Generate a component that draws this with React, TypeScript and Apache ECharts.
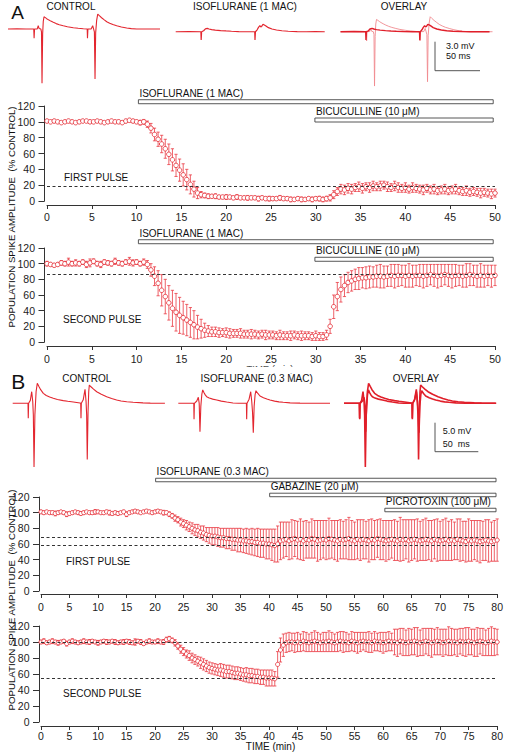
import React, { useEffect, useRef } from 'react';
import * as echarts from 'echarts';

const FONT = '"Liberation Sans", Arial, Helvetica, sans-serif';
const RED = '#e3262f';
const RED_ERR = '#ea3a42';

// ---------- Panel A (1 MAC), sampled every 0.4 min, 0..50 min ----------
const A_STEP = 0.4;
const A1_MEAN = [
  101,100,101,100,99,100,101,100,99,100,
  101,101,100,100,101,100,99,100,101,100,
  100,99,101,102,101,100,99,100,97,92,
  84,78,72,66,59,52,45,39,33,27,
  21,15,10,8,7,6,6,6,5,5,
  5,5,4,5,4,4,4,4,4,3,
  4,3,3,3,3,4,3,3,2,2,
  3,2,2,3,2,3,3,2,3,4,
  8,12,15,14,16,15,17,18,16,18,
  17,19,18,19,20,18,17,19,17,16,
  17,15,17,16,15,14,16,14,15,13,
  14,15,13,14,15,13,12,13,11,12,
  11,10,11,10,9,10,
];
const A1_ERR = [
  1,1,2,1,1,1,2,1,1,2,
  1,1,2,1,1,2,1,1,2,1,
  2,1,2,2,2,2,3,3,4,6,
  8,9,11,12,13,14,14,14,14,13,
  12,10,7,4,3,3,2,3,2,2,
  3,2,2,3,2,2,3,2,2,3,
  2,2,3,2,2,3,2,2,3,2,
  2,3,2,2,3,2,3,3,3,4,
  5,5,6,6,6,6,5,6,6,5,
  6,6,5,6,5,6,5,6,6,5,
  6,5,6,5,5,6,5,5,6,5,
  5,6,5,5,6,5,5,6,5,5,
  5,6,5,5,6,5,
];
const A2_MEAN = [
  100,99,98,99,101,100,102,100,101,100,
  102,99,101,103,100,99,102,101,100,103,
  101,100,102,103,101,102,100,102,99,92,
  84,75,66,58,50,43,38,34,31,28,
  25,22,19,17,15,14,13,13,12,12,
  12,11,11,11,11,10,10,10,10,9,
  10,9,9,9,8,9,8,8,8,9,
  8,8,8,8,7,8,7,7,9,20,
  45,58,67,72,76,78,80,81,82,82,
  83,83,84,84,83,84,85,84,85,85,
  84,85,84,85,85,84,85,86,85,84,
  85,86,85,84,85,85,84,85,86,85,
  84,85,84,85,84,85,
];
const A2_ERR = [
  3,2,2,2,3,3,5,3,4,3,
  3,4,5,3,3,4,3,3,3,4,
  3,3,3,5,4,3,3,4,5,8,
  12,16,20,22,22,23,24,23,21,20,
  19,18,15,12,9,7,6,6,6,5,
  6,6,5,5,6,5,5,6,5,5,
  5,6,5,5,5,6,5,5,6,5,
  5,6,5,5,5,6,5,5,6,9,
  15,18,16,14,13,13,13,14,13,14,
  14,13,14,15,14,13,14,15,14,13,
  14,15,14,13,14,15,14,13,14,15,
  14,13,14,15,14,13,14,15,14,13,
  14,15,14,13,14,13,
];
const A1_DASH = [19];
const A2_DASH = [86];

// ---------- Panel B (0.3 MAC), sampled every 0.5 min, 0..80 min ----------
const B_STEP = 0.5;
const B1_MEAN = [
  101,100,101,100,100,99,100,101,100,98,
  99,100,101,100,99,100,101,100,100,101,
  101,100,100,101,100,99,100,99,100,101,
  98,100,101,102,101,100,101,102,101,100,
  101,102,101,100,100,98,96,93,91,88,
  86,84,82,80,78,77,75,74,72,71,
  70,70,69,68,68,67,67,66,66,65,
  65,64,64,63,63,62,62,61,61,60,
  60,59,58,60,64,65,66,64,66,67,
  65,66,64,66,65,67,66,64,65,66,
  65,67,66,65,64,66,65,66,67,65,
  64,66,65,66,65,64,66,65,67,66,
  65,64,65,66,65,64,66,65,66,64,
  65,66,65,64,65,66,65,64,66,65,
  64,65,66,64,65,64,66,65,64,63,
  65,64,65,64,63,64,65,64,63,64,
  65,
];
const B1_ERR = [
  2,2,1,2,2,3,2,1,2,3,
  2,2,1,2,2,2,1,2,2,3,
  2,1,2,2,3,2,2,2,1,2,
  3,2,2,2,2,1,2,2,2,2,
  2,2,2,3,2,3,3,4,4,5,
  5,6,6,7,7,8,8,9,9,10,
  11,11,12,12,12,13,13,14,14,15,
  15,15,16,16,17,17,18,18,18,19,
  19,20,21,23,24,23,22,24,25,23,
  24,26,25,24,23,25,24,26,25,24,
  25,26,24,25,26,25,24,25,27,25,
  24,25,26,25,24,27,26,25,24,26,
  25,26,25,24,26,25,28,26,25,27,
  26,25,27,25,26,27,25,26,25,27,
  25,26,27,25,26,24,26,27,25,26,
  27,26,25,26,27,25,26,27,25,26,
  27,
];
const B2_MEAN = [
  100,101,99,100,101,100,99,100,101,98,
  100,101,100,99,100,101,100,100,101,100,
  99,100,101,100,100,101,100,99,100,100,
  101,100,99,100,101,100,98,100,101,100,
  100,101,100,100,103,104,102,99,95,91,
  88,85,83,80,78,76,74,72,70,68,
  67,66,65,65,64,63,63,62,61,61,
  60,59,59,58,58,57,57,56,56,55,
  55,55,54,72,90,96,99,100,100,99,
  100,99,101,100,99,100,101,100,99,100,
  100,101,100,99,100,101,100,100,99,101,
  100,99,100,101,100,100,99,101,100,100,
  99,100,101,100,100,99,101,100,99,100,
  100,101,100,99,100,101,100,99,100,101,
  100,99,100,101,100,100,99,101,100,100,
  101,100,99,100,101,100,99,100,101,100,
  100,
];
const B2_ERR = [
  2,3,2,2,3,2,3,2,2,3,
  2,3,2,2,2,3,2,3,2,2,
  3,2,2,3,2,2,3,2,2,3,
  2,3,2,4,2,3,2,2,3,2,
  2,3,2,3,3,3,3,4,4,5,
  5,5,6,6,6,6,7,7,7,7,
  7,7,7,8,8,8,8,8,8,8,
  8,8,9,9,9,9,9,9,9,10,
  10,10,9,16,15,14,12,12,11,12,
  12,11,12,12,11,12,13,12,11,12,
  12,13,12,11,12,12,13,12,11,12,
  12,13,12,11,12,13,12,12,11,12,
  13,12,12,11,16,17,16,17,16,17,
  16,17,18,16,17,16,17,18,16,17,
  16,17,16,18,17,16,17,16,17,18,
  17,16,17,18,16,17,16,17,18,17,
  16,
];
const B1_DASH = [68, 59];
const B2_DASH = [100, 55];

// ---------- Drug applications (min) ----------
const DRUGS_A1 = [
  { name: 'ISOFLURANE (1 MAC)', start: 10.2, end: 49.8 },
  { name: 'BICUCULLINE (10 μM)', start: 29.9, end: 49.8 },
];
const DRUGS_A2 = [
  { name: 'ISOFLURANE (1 MAC)', start: 10.2, end: 49.8 },
  { name: 'BICUCULLINE (10 μM)', start: 29.9, end: 49.8 },
];
const DRUGS_B1 = [
  { name: 'ISOFLURANE (0.3 MAC)', start: 20.1, end: 79.8 },
  { name: 'GABAZINE (20 μM)', start: 40.1, end: 79.8 },
  { name: 'PICROTOXIN (100 μM)', start: 60.3, end: 79.8 },
];

// ---------- Example field potential traces: [ms, mV] ----------
const TRACE_A_CONTROL = [
  [0,0],[10,0.02],[20,0],[28.6,0],[29.0,-0.96],[29.5,0],[32.5,0.02],[33.6,0.34],[34.6,0.05],[36.5,0],
  [37.2,-0.3],[37.8,-5.62],[38.5,-0.5],[39.2,0.8],[40.0,1.27],[41.5,1.18],[43,1.07],[45,0.95],[47.5,0.82],
  [50.3,0.69],[53.5,0.56],[57,0.45],[61.4,0.34],[66,0.24],[72.6,0.14],[78,0.08],[83.7,0.03],[88.0,0],
  [88.3,-0.96],[88.8,0],[92.5,0.02],[94.1,0.34],[95.0,0.05],[96.0,-0.3],[96.7,-5.17],[97.4,-0.4],[98.5,0.9],
  [99.7,1.55],[101.5,1.38],[104,1.17],[107,0.95],[109.7,0.76],[113,0.6],[116.5,0.46],[120.8,0.34],[126,0.21],
  [131.9,0.1],[137,0.04],[143,0],[150,0.01],[160,0],[168.9,0],
];
const TRACE_A_ISO = [
  [0,0],[15,0.02],[28.0,0],[28.3,-0.86],[28.8,0],[31,0.1],[33,0.3],[35,0.35],[37,0.28],[40,0.22],[44,0.17],
  [50,0.12],[56,0.08],[62,0.05],[70,0.02],[80,0],[87.8,0],[88.1,-0.86],[88.6,0],[90.5,0.2],[92,0.45],
  [93.5,0.62],[94.5,0.5],[95.5,0.55],[97,0.77],[98.5,0.7],[100.3,0.6],[103,0.42],[107,0.28],[112,0.18],
  [118,0.1],[125,0.05],[135,0.02],[145,0],[155,0.01],[165.6,0],
];
const TRACE_B_CONTROL = [
  [0,0],[10,0],[17.8,0],[18.1,-2.59],[18.5,0],[20.5,0.5],[22.1,2.0],[23.3,0.3],[24.0,-2],[24.8,-11],
  [25.8,-2],[27.2,2.0],[28.6,3.45],[30.5,2.9],[32.5,2.35],[35.6,1.72],[39,1.35],[43,1.08],[47.2,0.86],
  [52,0.65],[58.8,0.46],[64,0.34],[70.5,0.23],[78.3,0.05],[79.1,0],[79.4,-2.59],[79.8,0],[82,0.6],
  [84.1,2.4],[85.3,0.3],[86.0,-2],[86.7,-9.7],[87.6,-1.5],[88.4,2.0],[89.1,3.15],[91,2.85],[94,2.45],
  [97.7,2.0],[103,1.55],[109.3,1.14],[115,0.82],[120.9,0.57],[126,0.4],[132.6,0.28],[140,0.17],
  [151.5,0.07],[160,0.03],[170,0],[177,0],
];
const TRACE_B_ISO = [
  [0,0],[10,0],[18.0,0],[18.3,-2.76],[18.7,0],[21.5,0.4],[23.3,1.03],[24.3,0],[25.2,-4.9],[26.2,-0.5],
  [27.4,1.6],[28.4,2.3],[29.8,1.85],[31.3,1.45],[33,1.14],[36,0.9],[40,0.72],[44.7,0.57],[50,0.38],
  [56.3,0.22],[63.6,0.05],[70,0],[79.2,0],[79.5,-2.76],[79.9,0],[82.3,0.7],[84.2,2.0],[85.4,0.3],
  [86.3,-1.5],[87.2,-5.07],[88.2,-0.5],[89.3,1.5],[90.3,2.17],[92.5,1.7],[95,1.26],[99,0.95],[103,0.74],
  [106.6,0.57],[112,0.38],[117,0.25],[122,0.17],[130,0.08],[141.5,0.03],[155,0],[176.4,0],
];

// ---------- Layout ----------
const PLOTS = [
  { left: 47, top: 106, width: 448, height: 95, xMax: 50, yOff: 2.5, xOff: 4, xMargin: 6, mean: A1_MEAN, err: A1_ERR, step: A_STEP, dash: A1_DASH, drugs: DRUGS_A1, levels: [125.4, 102.3], barH: 4, sym: 4.6 },
  { left: 47, top: 248, width: 448, height: 94, xMax: 50, yOff: 2.5, xOff: 4, xMargin: 7, mean: A2_MEAN, err: A2_ERR, step: A_STEP, dash: A2_DASH, drugs: DRUGS_A2, levels: [128, 105.6], barH: 4, sym: 4.6 },
  { left: 41, top: 497, width: 457, height: 94, xMax: 80, yOff: 2, xOff: 3, xMargin: 7, mean: B1_MEAN, err: B1_ERR, step: B_STEP, dash: B1_DASH, drugs: DRUGS_B1, levels: [141.7, 122.6, 103.4], barH: 3.5, sym: 4.2 },
  { left: 41, top: 626, width: 457, height: 96, xMax: 80, yOff: 2, xOff: 4, xMargin: 4.5, mean: B2_MEAN, err: B2_ERR, step: B_STEP, dash: B2_DASH, drugs: [], levels: [], barH: 3.5, sym: 4.2 },
];

const A_PX_MS = 0.9, B_PX_MS = 0.86;
const TRACES = [
  { left: 8, top: 9.7, width: 152, height: 87, pxms: A_PX_MS, yMin: -7, yMax: 2, lines: [{ d: TRACE_A_CONTROL, c: RED, w: 1.1 }] },
  { left: 175.7, top: 12.4, width: 149.3, height: 87, pxms: A_PX_MS, yMin: -7, yMax: 2, lines: [{ d: TRACE_A_ISO, c: RED, w: 1.2 }] },
  { left: 340.5, top: 12.4, width: 152.5, height: 87, pxms: A_PX_MS, yMin: -7, yMax: 2, lines: [{ d: TRACE_A_CONTROL, c: '#f08a8f', w: 0.9 }, { d: TRACE_A_ISO, c: '#e01f2a', w: 1.4 }] },
  { left: 12.7, top: 380.1, width: 152.3, height: 92.8, pxms: B_PX_MS, yMin: -12, yMax: 4, lines: [{ d: TRACE_B_CONTROL, c: RED, w: 1.1 }] },
  { left: 178.3, top: 380.1, width: 151.7, height: 92.8, pxms: B_PX_MS, yMin: -12, yMax: 4, lines: [{ d: TRACE_B_ISO, c: RED, w: 1.1 }] },
  { left: 344, top: 380.1, width: 152, height: 92.8, pxms: B_PX_MS, yMin: -12, yMax: 4, lines: [{ d: TRACE_B_CONTROL, c: '#e01f2a', w: 1.6 }, { d: TRACE_B_ISO, c: '#e01f2a', w: 1.6 }] },
];

function buildOption() {
  const grid: any[] = [];
  const xAxis: any[] = [];
  const yAxis: any[] = [];
  const series: any[] = [];
  const axisColor = '#333';

  PLOTS.forEach((p, gi) => {
    grid.push({ left: p.left, top: p.top, width: p.width, height: p.height });
    xAxis.push({
      type: 'value', gridIndex: gi, min: 0, max: p.xMax, interval: 5, offset: p.xOff,
      axisLine: { show: true, onZero: false, lineStyle: { color: axisColor, width: 1 } },
      axisTick: { show: true, length: 4, lineStyle: { color: axisColor, width: 1 } },
      axisLabel: { show: true, fontSize: 10.5, color: '#222', fontFamily: FONT, margin: p.xMargin, showMinLabel: true, showMaxLabel: true },
      splitLine: { show: false },
    });
    yAxis.push({
      type: 'value', gridIndex: gi, min: 0, max: 120, interval: 20, offset: p.yOff,
      axisLine: { show: true, onZero: false, lineStyle: { color: axisColor, width: 1 } },
      axisTick: { show: true, length: 6, lineStyle: { color: axisColor, width: 1 } },
      axisLabel: { show: true, fontSize: 10.5, color: '#222', fontFamily: FONT, margin: 9.5 },
      splitLine: { show: false },
    });
    const pts = p.mean.map((m, i) => [Math.round(i * p.step * 10) / 10, m, p.err[i]]);
    series.push({
      type: 'custom', xAxisIndex: gi, yAxisIndex: gi, data: pts, z: 2, silent: true,
      encode: { x: 0, y: 1 },
      renderItem: (params: any, api: any) => {
        const x = api.value(0), m = api.value(1), e = api.value(2);
        const t = api.coord([x, m + e]);
        const b = api.coord([x, m - e]);
        const c = 1.6;
        const st = { stroke: RED_ERR, lineWidth: 0.8 };
        return {
          type: 'group', children: [
            { type: 'line', shape: { x1: t[0], y1: t[1], x2: b[0], y2: b[1] }, style: st },
            { type: 'line', shape: { x1: t[0] - c, y1: t[1], x2: t[0] + c, y2: t[1] }, style: st },
            { type: 'line', shape: { x1: b[0] - c, y1: b[1], x2: b[0] + c, y2: b[1] }, style: st },
          ],
        };
      },
    });
    series.push({
      type: 'scatter', xAxisIndex: gi, yAxisIndex: gi, z: 3, silent: true,
      data: pts.map((d) => [d[0], d[1]]),
      symbol: 'circle', symbolSize: p.sym,
      itemStyle: { color: '#fff', borderColor: RED, borderWidth: 0.8, opacity: 1 },
      markLine: {
        silent: true, symbol: ['none', 'none'], label: { show: false },
        lineStyle: { type: [3, 2.5], color: '#333', width: 1 },
        data: p.dash.map((v) => ({ yAxis: v })),
      },
    });
    if (p.drugs.length) {
      const drugs = p.drugs;
      const levels = p.levels;
      const h = p.barH;
      series.push({
        type: 'custom', xAxisIndex: gi, yAxisIndex: gi, clip: false, z: 4, silent: true,
        encode: { x: [0, 1], y: 2 },
        data: drugs.map((d, i) => [d.start, d.end, levels[i]]),
        renderItem: (params: any, api: any) => {
          const s = api.coord([api.value(0), api.value(2)]);
          const e = api.coord([api.value(1), api.value(2)]);
          return {
            type: 'group', children: [
              { type: 'rect', shape: { x: s[0], y: s[1] - h / 2, width: e[0] - s[0], height: h }, style: { fill: '#fff', stroke: '#444', lineWidth: 0.9 } },
              { type: 'text', x: s[0] + 1, y: s[1] - h / 2 - 1.5, style: { text: drugs[params.dataIndex].name, fill: '#111', fontSize: 10, fontFamily: FONT, align: 'left', verticalAlign: 'bottom' } },
            ],
          };
        },
      });
    }
  });

  TRACES.forEach((t, k) => {
    const gi = PLOTS.length + k;
    grid.push({ left: t.left, top: t.top, width: t.width, height: t.height });
    xAxis.push({ type: 'value', gridIndex: gi, min: 0, max: t.width / t.pxms, show: false, splitLine: { show: false } });
    yAxis.push({ type: 'value', gridIndex: gi, min: t.yMin, max: t.yMax, show: false, splitLine: { show: false } });
    t.lines.forEach((ln) => {
      series.push({
        type: 'line', xAxisIndex: gi, yAxisIndex: gi, data: ln.d, showSymbol: false, symbol: 'none', silent: true,
        lineStyle: { color: ln.c, width: ln.w }, clip: false, z: 2,
      });
    });
  });

  const txt = (text: string, x: number, y: number, size: number, align = 'center', extra: any = {}) => ({
    type: 'text', x, y, silent: true, ...extra,
    style: { text, fill: '#111', fontSize: size, fontFamily: FONT, align, verticalAlign: 'middle' },
  });

  const graphic: any[] = [
    txt('A', 17.5, 12.5, 19),
    txt('CONTROL', 71, 6.8, 10),
    txt('ISOFLURANE (1 MAC)', 245, 6.8, 10),
    txt('OVERLAY', 404, 6.8, 10),
    { type: 'polyline', silent: true, shape: { points: [[435, 41.7], [435, 70.7], [480, 70.7]] }, style: { stroke: '#555', lineWidth: 1, fill: 'none' } },
    txt('3.0 mV', 446, 46, 9, 'left'),
    txt('50 ms', 446, 55.5, 9, 'left'),
    txt('FIRST PULSE', 64, 177.7, 10, 'left'),
    txt('SECOND PULSE', 63, 319.3, 10, 'left'),
    txt('POPULATION SPIKE AMPLITUDE\u00a0 (% CONTROL)', 11, 217, 9.7, 'center', { rotation: Math.PI / 2 }),
    txt('TIME (min)', 270, 368.6, 9.5),
    { type: 'rect', silent: true, shape: { x: 235, y: 366.8, width: 70, height: 6.6 }, style: { fill: '#fff' } },
    txt('B', 18.3, 381.7, 21),
    txt('CONTROL', 86.8, 378.8, 10),
    txt('ISOFLURANE (0.3 MAC)', 256.7, 378.8, 10),
    txt('OVERLAY', 416, 378.8, 10),
    { type: 'polyline', silent: true, shape: { points: [[435, 422.7], [435, 451.7], [478.3, 451.7]] }, style: { stroke: '#555', lineWidth: 1, fill: 'none' } },
    txt('5.0 mV', 442.7, 430.5, 9, 'left'),
    txt('50  ms', 442.7, 443.5, 9, 'left'),
    txt('FIRST PULSE', 66, 561.7, 10, 'left'),
    txt('SECOND PULSE', 63, 693.3, 10, 'left'),
    txt('POPULATION SPIKE AMPLITUDE\u00a0 (% CONTROL)', 11, 600, 9.7, 'center', { rotation: Math.PI / 2 }),
    txt('TIME (min)', 270.5, 746.7, 10),
  ];

  return { animation: false, backgroundColor: '#fff', grid, xAxis, yAxis, series, graphic };
}

export default function App() {
  const ref = useRef<HTMLDivElement>(null);
  useEffect(() => {
    document.body.style.margin = '0';
    if (!ref.current) return;
    const chart = echarts.init(ref.current, undefined, { renderer: 'svg' });
    chart.setOption(buildOption() as any);
    return () => chart.dispose();
  }, []);
  return <div ref={ref} style={{ width: 506, height: 756 }} />;
}
